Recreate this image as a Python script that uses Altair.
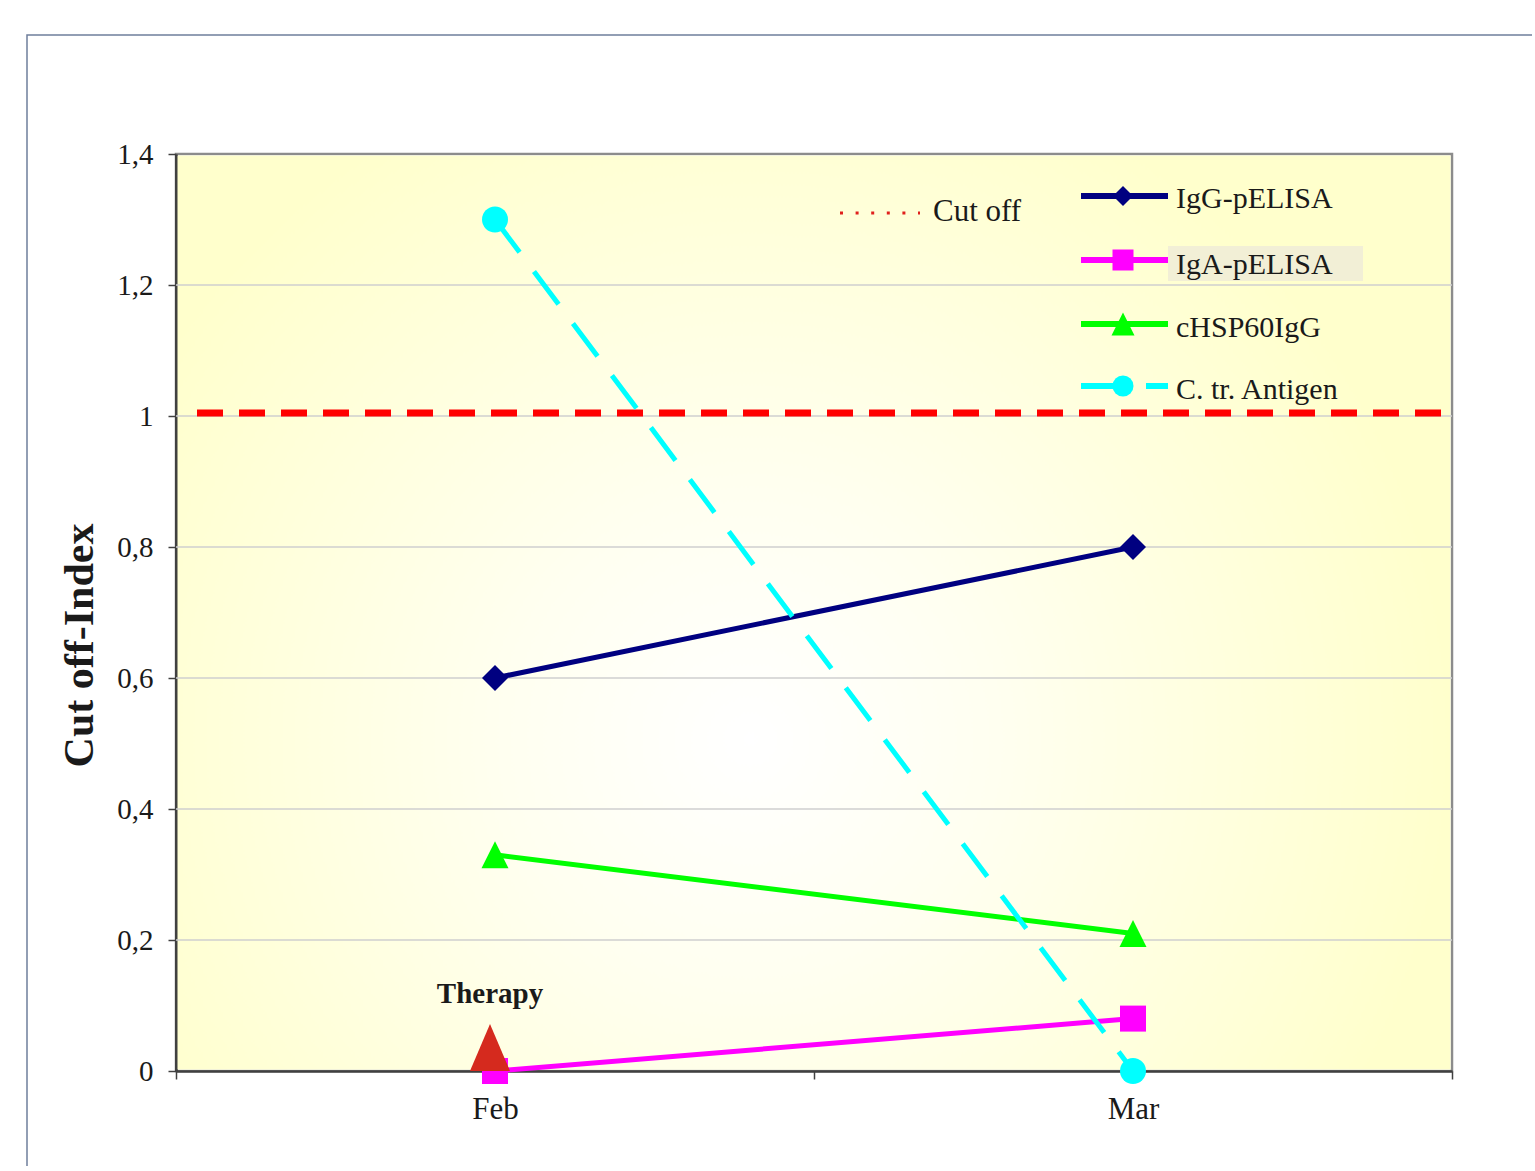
import altair as alt
import pandas as pd

# ---- data -------------------------------------------------------------
months = ["Feb", "Mar"]
series_names = ["IgG-pELISA", "IgA-pELISA", "cHSP60IgG", "C. tr. Antigen"]
igg_pelisa = [0.60, 0.80]
iga_pelisa = [0.00, 0.08]
chsp60_igg = [0.33, 0.21]
ctr_antigen = [1.30, 0.00]
cutoff_value = [1.0]
cutoff_label = ["Cut off"]
therapy_month = ["Feb"]
therapy_value = [0.0]
therapy_label = ["Therapy"]
y_ticks = [0, 0.2, 0.4, 0.6, 0.8, 1.0, 1.2, 1.4]
grid_values = [0.2, 0.4, 0.6, 0.8, 1.0, 1.2]

series_values = [igg_pelisa, iga_pelisa, chsp60_igg, ctr_antigen]

# ---- styling ----------------------------------------------------------
W, H = 1276, 917
FONT = "Liberation Serif"
TEXT = "#1a1a1a"
TRI = "M0,-1L1,1L-1,1Z"

styles = [
    dict(color="#000080", shape="diamond", size=676, lsize=400, dash=None),
    dict(color="#FF00FF", shape="square", size=676, lsize=441, dash=None),
    dict(color="#00FF00", shape=TRI, size=729, lsize=529, dash=None),
    dict(color="#00FFFF", shape="circle", size=676, lsize=441, dash=[41, 24]),
]

x_scale = alt.Scale(type="band", domain=months, paddingInner=0, paddingOuter=0)
y_scale = alt.Scale(domain=[0, 1.4], nice=False, zero=True)

x_axis = alt.Axis(
    title=None, tickBand="extent", labelFont=FONT, labelFontSize=31,
    labelColor=TEXT, labelPadding=15, tickSize=8, tickColor="#404040",
    tickWidth=1.5, domainColor="#404040", domainWidth=2.5, grid=False,
    labelAngle=0,
)
y_axis = alt.Axis(
    title="Cut off-Index", values=y_ticks,
    labelExpr="replace(format(datum.value, '~g'), '.', ',')",
    labelFont=FONT, labelFontSize=29, labelColor=TEXT, labelPadding=15,
    tickSize=8, tickColor="#404040", tickWidth=1.5,
    domainColor="#404040", domainWidth=3, grid=False,
    titleFont=FONT, titleFontSize=42, titleFontWeight="bold", titleColor=TEXT,
    titleAngle=-90, titleBaseline="alphabetic", titleAlign="center",
    titleX=-84, titleY=491,
)

def X(field="month"):
    return alt.X(f"{field}:N", scale=x_scale, axis=x_axis)

def Y(field="value"):
    return alt.Y(f"{field}:Q", scale=y_scale, axis=y_axis)

one_row = pd.DataFrame({"k": [0]})

layers = []

# outer frame of the chart
layers.append(
    alt.Chart(one_row).mark_rect(fillOpacity=0, stroke="#6f7f9c", strokeWidth=1.5).encode(
        x=alt.value(-149), x2=alt.value(1600), y=alt.value(-119), y2=alt.value(1200)
    )
)

# plot background: pale yellow with a lighter centre
layers.append(
    alt.Chart(one_row).mark_rect(
        fill={
            "gradient": "radial",
            "x1": 0.45, "y1": 0.6, "r1": 0,
            "x2": 0.45, "y2": 0.6, "r2": 0.55,
            "stops": [
                {"offset": 0, "color": "#ffffff"},
                {"offset": 0.35, "color": "#fffff0"},
                {"offset": 1, "color": "#ffffcc"},
            ],
        }
    ).encode(x=alt.value(1.5), x2=alt.value(W - 1.5), y=alt.value(1.5), y2=alt.value(H - 1.5))
)

# horizontal grid lines
layers.append(
    alt.Chart(pd.DataFrame({"value": grid_values})).mark_rule(
        stroke="#cfcfcf", strokeWidth=1.5
    ).encode(y=Y())
)

# cut-off level
layers.append(
    alt.Chart(pd.DataFrame({"cut": cutoff_value})).mark_rule(
        stroke="#FF0000", strokeWidth=7, strokeDash=[26, 16], yOffset=-3
    ).encode(y=Y("cut"), x=alt.value(21), x2=alt.value(1267))
)

# series lines and markers
for name, vals, st in zip(series_names, series_values, styles):
    df = pd.DataFrame({"month": months, "value": vals, "series": name})
    line_kw = dict(color=st["color"], strokeWidth=5)
    if st["dash"]:
        line_kw["strokeDash"] = st["dash"]
    layers.append(alt.Chart(df).mark_line(**line_kw).encode(x=X(), y=Y()))
    layers.append(
        alt.Chart(df).mark_point(
            shape=st["shape"], size=st["size"], filled=True, fill=st["color"],
            opacity=1, strokeWidth=0
        ).encode(x=X(), y=Y())
    )

# therapy marker and label
therapy_df = pd.DataFrame({"month": therapy_month, "value": therapy_value, "label": therapy_label})
layers.append(
    alt.Chart(therapy_df).mark_point(
        shape="M0,-1.35L1,1L-1,1Z", size=1600, filled=True, fill="#D52A1E",
        opacity=1, strokeWidth=0, yOffset=-20, xOffset=-5
    ).encode(x=X(), y=Y())
)
layers.append(
    alt.Chart(therapy_df).mark_text(
        font=FONT, fontSize=29, fontWeight="bold", color=TEXT,
        baseline="alphabetic", align="center", dy=-68, dx=-5
    ).encode(x=X(), y=Y(), text="label:N")
)

# legend: cut-off entry
cut_df = pd.DataFrame({"label": cutoff_label})
layers.append(
    alt.Chart(cut_df).mark_rule(stroke="#E0201C", strokeWidth=3, strokeDash=[3, 12.6]).encode(
        x=alt.value(664), x2=alt.value(744), y=alt.value(59)
    )
)
layers.append(
    alt.Chart(cut_df).mark_text(
        font=FONT, fontSize=31, color=TEXT, align="left", baseline="alphabetic"
    ).encode(x=alt.value(757), y=alt.value(67), text="label:N")
)

# legend: highlighted box behind the second series label
layers.append(
    alt.Chart(one_row).mark_rect(fill="#F2EFD6").encode(
        x=alt.value(992), x2=alt.value(1187), y=alt.value(92), y2=alt.value(127)
    )
)

# legend: series entries
row_y = [42, 106, 170, 232]
text_y = [54, 120, 183, 245]
for name, st, ry, ty in zip(series_names, styles, row_y, text_y):
    ldf = pd.DataFrame({"label": [name]})
    rule_kw = dict(stroke=st["color"], strokeWidth=6)
    if st["dash"]:
        rule_kw["strokeDash"] = st["dash"]
    layers.append(
        alt.Chart(ldf).mark_rule(**rule_kw).encode(
            x=alt.value(905), x2=alt.value(992), y=alt.value(ry)
        )
    )
    layers.append(
        alt.Chart(ldf).mark_point(
            shape=st["shape"], size=st["lsize"], filled=True, fill=st["color"],
            opacity=1, strokeWidth=0
        ).encode(x=alt.value(947), y=alt.value(ry))
    )
    layers.append(
        alt.Chart(ldf).mark_text(
            font=FONT, fontSize=30, color=TEXT, align="left", baseline="alphabetic"
        ).encode(x=alt.value(1000), y=alt.value(ty), text="label:N")
    )

chart = alt.layer(*layers).properties(
    width=W,
    height=H,
    autosize=alt.AutoSizeParams(type="none"),
    padding={"left": 176, "top": 154, "right": 80, "bottom": 95},
    background="white",
).configure_view(stroke="#8c8c8c", strokeWidth=2.5)

chart.save("out.html", embed_options={"renderer": "svg", "actions": False})
